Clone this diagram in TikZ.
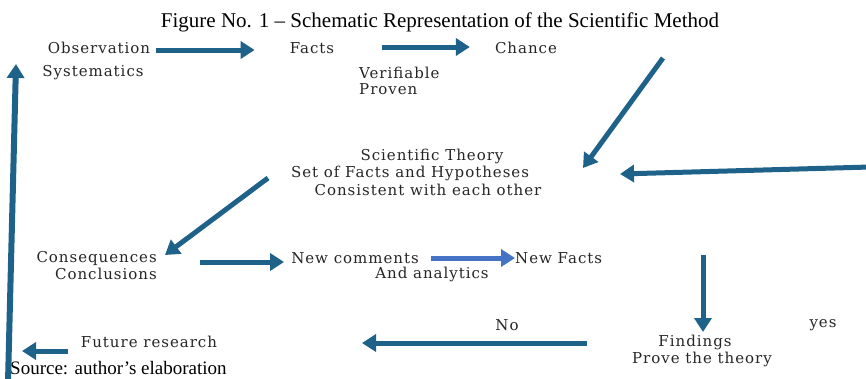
\documentclass[tikz,border=0pt]{standalone}
\usepackage{fontspec}
\setmainfont{Liberation Serif}
\newfontfamily\dvs[LetterSpace=6.5]{DejaVu Serif}
\usetikzlibrary{arrows.meta}
\definecolor{arrblue}{RGB}{30,98,138}
\definecolor{litblue}{RGB}{68,114,196}
\tikzset{
  lbl/.style={inner sep=0pt, font=\dvs\fontsize{15}{17}\selectfont, text=black!85},
  conn/.style={draw=arrblue, line width=5pt, -{Triangle[length=14pt,width=17pt]}},
  connlt/.style={conn, draw=litblue},
}
\begin{document}
\begin{tikzpicture}[x=1pt,y=-1pt]
\useasboundingbox (0,0) rectangle (866,378);
\fill[white] (0,0) rectangle (866,378);
\node[inner sep=0pt, font=\fontsize{21}{23}\selectfont] (title) at (440,22) {Figure No. 1 -- Schematic Representation of the Scientific Method};
\node[lbl] (obs) at (99,48) {Observation};
\node[lbl] (sys) at (93,73) {Systematics};
\node[lbl] (facts) at (312,48) {Facts};
\node[lbl] (chance) at (526,48) {Chance};
\node[lbl, anchor=west] (verif) at (359,73) {Verifiable};
\node[lbl, anchor=west] (prov) at (359,89) {Proven};
\node[lbl] (sth) at (432,156) {Scientific Theory};
\node[lbl] (set) at (410,173) {Set of Facts and Hypotheses};
\node[lbl] (cons) at (428,190) {Consistent with each other};
\node[lbl, anchor=east] (conseq) at (157,258) {Consequences};
\node[lbl, anchor=east] (concl) at (157,274) {Conclusions};
\node[lbl] (newc) at (355,258) {New comments};
\node[lbl] (anal) at (432,274) {And analytics};
\node[lbl, anchor=west] (newf) at (515,258) {New Facts};
\node[lbl] (no) at (507,325) {No};
\node[lbl] (yes) at (823,325) {yes};
\node[lbl] (find) at (695,342) {Findings};
\node[lbl] (prove) at (702,359) {Prove the theory};
\node[lbl] (fut) at (149,342) {Future research};
\node[inner sep=0pt, anchor=base west, font=\fontsize{19}{21}\selectfont] (src) at (10,374) {Source: author's elaboration};
% arrow end points
\coordinate (a3s) at (663,58);  \coordinate (a3e) at (583,168);
\coordinate (a4s) at (870,167); \coordinate (a4e) at (620,174);
\coordinate (a5s) at (268,178); \coordinate (a5e) at (165,255);
\coordinate (a8s) at (703,255); \coordinate (a8e) at (703,332);
\coordinate (a9s) at (587,343); \coordinate (a9e) at (362,343);
\coordinate (a10s) at (68,351); \coordinate (a10e) at (22,351);
\coordinate (a11s) at (8,382);  \coordinate (a11e) at (16,64);
\draw[conn] ([shift={(6,2)}]obs.east) -- ([shift={(-35,2)}]facts.west);
\draw[conn] ([shift={(48,-1)}]facts.east) -- ([shift={(-25,-1)}]chance.west);
\draw[conn] (a3s) -- (a3e);
\draw[conn] (a4s) -- (a4e);
\draw[conn] (a5s) -- (a5e);
\draw[conn] ([shift={(43,4)}]conseq.east) -- ([shift={(-7,4)}]newc.west);
\draw[connlt] ([shift={(12,0)}]newc.east) -- (newf.west);
\draw[conn] (a8s) -- (a8e);
\draw[conn] (a9s) -- (a9e);
\draw[conn] (a10s) -- (a10e);
\draw[conn, line width=6pt] (a11s) -- (a11e);
\end{tikzpicture}
\end{document}
